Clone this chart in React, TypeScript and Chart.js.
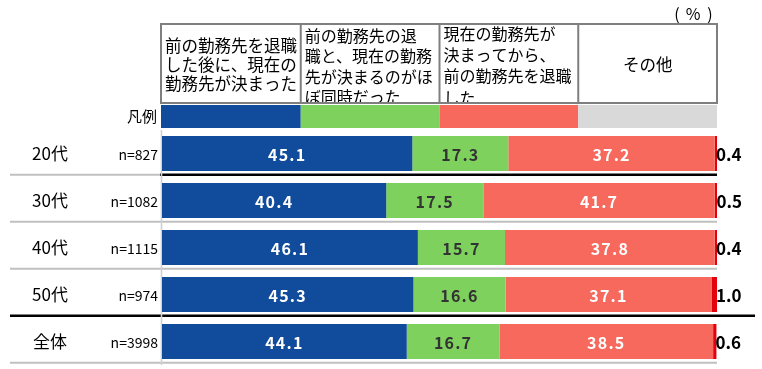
import React, { useEffect, useRef } from "react";
import { Chart, registerables } from "chart.js";

Chart.register(...registerables);

// ---- data ----
const categories = ["20代", "30代", "40代", "50代", "全体"];
const sampleSizes = ["n=827", "n=1082", "n=1115", "n=974", "n=3998"];
const seriesNames = [
  "前の勤務先を退職した後に、現在の勤務先が決まった",
  "前の勤務先の退職と、現在の勤務先が決まるのがほぼ同時だった",
  "現在の勤務先が決まってから、前の勤務先を退職した",
  "その他",
];
const headerLines = [
  ["前の勤務先を退職", "した後に、現在の", "勤務先が決まった"],
  ["前の勤務先の退", "職と、現在の勤務", "先が決まるのがほ", "ぼ同時だった"],
  ["現在の勤務先が", "決まってから、", "前の勤務先を退職", "した"],
  ["その他"],
];
const afterLeaving = [45.1, 40.4, 46.1, 45.3, 44.1];
const sameTime = [17.3, 17.5, 15.7, 16.6, 16.7];
const beforeLeaving = [37.2, 41.7, 37.8, 37.1, 38.5];
const other = [0.4, 0.5, 0.4, 1.0, 0.6];
const unitParts = ["(", "%", ")"];
const legendLabel = "凡例";

const barColors = ["#114b9b", "#7ed15d", "#f7695d", "#e5000e"];
const legendColors = ["#114b9b", "#7ed15d", "#f7695d", "#d9d9d9"];
const labelColors = ["#ffffff", "#333333", "#ffffff"];

const FONT = '"Noto Sans CJK JP", "Noto Sans", sans-serif';

const decorPlugin = {
  id: "decor",
  beforeDatasetsDraw(chart: any) {
    const ctx = chart.ctx;
    const y = chart.scales.y;
    const ca = chart.chartArea;
    ctx.save();
    const band = y.getPixelForValue(1) - y.getPixelForValue(0);
    categories.forEach((_, i) => {
      const ly = y.getPixelForValue(i) + band * 0.45;
      if (i === 0) {
        ctx.strokeStyle = "#c0c0c0";
        ctx.lineWidth = 2;
        ctx.beginPath();
        ctx.moveTo(10, ly);
        ctx.lineTo(ca.left - 2, ly);
        ctx.stroke();
        ctx.strokeStyle = "#000000";
        ctx.lineWidth = 2.5;
        ctx.beginPath();
        ctx.moveTo(ca.left - 2, ly);
        ctx.lineTo(ca.right, ly);
        ctx.stroke();
      } else if (i === 3) {
        ctx.strokeStyle = "#000000";
        ctx.lineWidth = 2.5;
        ctx.beginPath();
        ctx.moveTo(10, ly);
        ctx.lineTo(755, ly);
        ctx.stroke();
      } else {
        ctx.strokeStyle = "#c0c0c0";
        ctx.lineWidth = 2;
        ctx.beginPath();
        ctx.moveTo(10, ly);
        ctx.lineTo(ca.right, ly);
        ctx.stroke();
      }
    });
    ctx.strokeStyle = "#d0d0d0";
    ctx.lineWidth = 1.6;
    ctx.beginPath();
    ctx.moveTo(ca.left - 0.5, ca.top);
    ctx.lineTo(ca.left - 0.5, ca.bottom);
    ctx.stroke();
    ctx.restore();
  },
  afterDatasetsDraw(chart: any) {
    const ctx = chart.ctx;
    const x = chart.scales.x;
    const y = chart.scales.y;
    ctx.save();
    for (let d = 0; d < 4; d++) {
      const meta = chart.getDatasetMeta(d);
      const vals = chart.data.datasets[d].data as number[];
      meta.data.forEach((el: any, i: number) => {
        const txt = vals[i].toFixed(1);
        ctx.textBaseline = "middle";
        if (d < 3) {
          ctx.font = `bold 16px ${FONT}`;
          (ctx as any).letterSpacing = "1.2px";
          ctx.fillStyle = labelColors[d];
          ctx.textAlign = "center";
          ctx.fillText(txt, (el.x + el.base) / 2, el.y + 1);
        } else {
          ctx.font = `bold 17px ${FONT}`;
          (ctx as any).letterSpacing = "0px";
          ctx.fillStyle = "#000000";
          ctx.textAlign = "left";
          ctx.fillText(txt, el.x - 1, el.y + 1);
        }
      });
    }
    (ctx as any).letterSpacing = "0px";
    categories.forEach((c, i) => {
      const cy = y.getPixelForValue(i);
      ctx.fillStyle = "#000000";
      ctx.textBaseline = "middle";
      ctx.textAlign = "center";
      ctx.font = `17px ${FONT}`;
      ctx.fillText(c, 50, cy);
      ctx.textAlign = "right";
      ctx.font = `14px ${FONT}`;
      ctx.fillText(sampleSizes[i], 158, cy + 1);
    });
    const x0 = x.getPixelForValue(0) - 1;
    const xs = [0, 25, 50, 75, 100].map((v, k) => (k === 0 ? x0 : x.getPixelForValue(v)));
    const top = 24;
    const bottom = 103;
    const layouts = [
      { align: "center", firstY: 45.5, lh: 19.3, size: 16.5 },
      { align: "left", firstY: 35.5, lh: 20.6, size: 16 },
      { align: "left", firstY: 34, lh: 21.2, size: 16 },
      { align: "center", firstY: 65, lh: 19, size: 16.5 },
    ];
    for (let k = 0; k < 4; k++) {
      const l = xs[k];
      const r = xs[k + 1];
      ctx.save();
      ctx.beginPath();
      ctx.rect(l + 1, top + 1, r - l - 2, bottom - top - 2);
      ctx.clip();
      ctx.fillStyle = "#000000";
      const lay = layouts[k];
      ctx.font = `${lay.size}px ${FONT}`;
      ctx.textBaseline = "middle";
      ctx.textAlign = lay.align as CanvasTextAlign;
      headerLines[k].forEach((line, j) => {
        const tx = lay.align === "center" ? (l + r) / 2 : l + 4;
        ctx.fillText(line, tx, lay.firstY + j * lay.lh);
      });
      ctx.restore();
      ctx.fillStyle = legendColors[k];
      ctx.fillRect(l, 105, r - l, 23);
    }
    ctx.strokeStyle = "#7f7f7f";
    ctx.lineWidth = 2;
    ctx.strokeRect(xs[0], top, xs[4] - xs[0], bottom - top);
    for (let k = 1; k < 4; k++) {
      ctx.beginPath();
      ctx.moveTo(xs[k], top);
      ctx.lineTo(xs[k], bottom);
      ctx.stroke();
    }
    ctx.fillStyle = "#000000";
    ctx.font = `15px ${FONT}`;
    ctx.textAlign = "right";
    ctx.textBaseline = "middle";
    ctx.fillText(legendLabel, 157, 116);
    ctx.textAlign = "center";
    ctx.font = `16px ${FONT}`;
    const unitX = [677, 693, 710];
    unitParts.forEach((p, i) => ctx.fillText(p, unitX[i], 14));
    ctx.restore();
  },
};

export default function App() {
  const ref = useRef<HTMLCanvasElement | null>(null);
  useEffect(() => {
    if (!ref.current) return;
    const series = [afterLeaving, sameTime, beforeLeaving, other];
    const chart = new Chart(ref.current, {
      type: "bar",
      data: {
        labels: categories,
        datasets: series.map((data, i) => ({
          label: seriesNames[i],
          data,
          backgroundColor: barColors[i],
          borderWidth: 0,
          barPercentage: 1,
          categoryPercentage: 0.745,
        })),
      },
      options: {
        indexAxis: "y",
        responsive: true,
        maintainAspectRatio: false,
        animation: false,
        events: [],
        layout: { padding: { left: 162, right: 45, top: 130, bottom: 4 } },
        plugins: {
          legend: { display: false },
          tooltip: { enabled: false },
          title: { display: false },
        },
        scales: {
          x: { stacked: true, min: 0, max: 100, display: false },
          y: { stacked: true, display: false },
        },
      },
      plugins: [decorPlugin],
    });
    return () => chart.destroy();
  }, []);
  return (
    <div style={{ position: "absolute", left: 0, top: 0, width: 762, height: 369, background: "#ffffff" }}>
      <canvas ref={ref} />
    </div>
  );
}
